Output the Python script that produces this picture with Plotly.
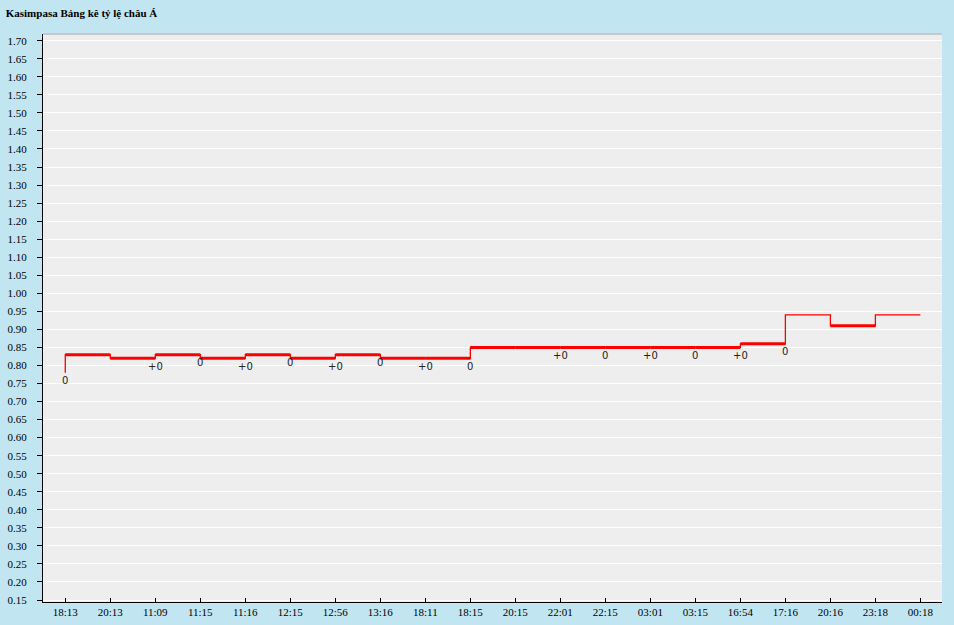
import plotly.graph_objects as go

title_text = "Kasimpasa Bảng kê tỷ lệ châu Á"
categories = ["18:13", "20:13", "11:09", "11:15", "11:16", "12:15", "12:56", "13:16", "18:11", "18:15",
              "20:15", "22:01", "22:15", "03:01", "03:15", "16:54", "17:16", "20:16", "23:18", "00:18"]
opening_value = 0.78
values = [0.83, 0.82, 0.83, 0.82, 0.83, 0.82, 0.83, 0.82, 0.82, 0.85,
          0.85, 0.85, 0.85, 0.85, 0.85, 0.86, 0.94, 0.91, 0.94, 0.94]
change_labels = ["0", "", "+0", "0", "+0", "0", "+0", "0", "+0", "0",
                 "", "+0", "0", "+0", "0", "+0", "0", "", "", ""]
y_ticks = [round(0.15 + 0.05 * i, 2) for i in range(32)]

RED = "#FF0000"
BG = "#C2E6F1"
THIN_SEGMENTS = {16, 18}
FONT = "Liberation Serif"

idx = list(range(len(categories)))

fig = go.Figure()

# full step line (thin)
fig.add_trace(go.Scatter(
    x=[0] + idx, y=[opening_value] + values,
    mode="lines", line=dict(color=RED, width=1.3, shape="hv"),
    hoverinfo="skip", showlegend=False))

# thick horizontal segments
sx, sy = [], []
for i in range(len(values) - 1):
    if i in THIN_SEGMENTS:
        continue
    sx += [idx[i], idx[i + 1], None]
    sy += [values[i], values[i], None]
fig.add_trace(go.Scatter(
    x=sx, y=sy, mode="lines", line=dict(color=RED, width=3),
    hoverinfo="skip", showlegend=False))

# change labels anchored at previous value
prev_vals = [opening_value] + values[:-1]
annotations = []
for i, t in enumerate(change_labels):
    if t:
        annotations.append(dict(
            x=idx[i], y=prev_vals[i], xref="x", yref="y", text=t, showarrow=False,
            xanchor="center", yanchor="middle", yshift=-8,
            font=dict(family="DejaVu Sans", size=10, color="#222222")))

fig.update_layout(
    width=954, height=625,
    paper_bgcolor=BG, plot_bgcolor="#EEEEEE",
    margin=dict(l=43, r=12, t=34, b=23, autoexpand=False),
    title=dict(text="<b>" + title_text + "</b>", x=0.006, xanchor="left", y=0.979, yanchor="middle",
               font=dict(family=FONT, size=11, color="#000000")),
    xaxis=dict(range=[-0.495, 19.48], tickvals=idx, ticktext=categories, automargin=False,
               showgrid=False, zeroline=False, showline=True, linecolor="#000000", linewidth=1,
               ticks="inside", ticklen=4, tickcolor="#000000",
               tickfont=dict(family=FONT, size=11, color="#000000")),
    yaxis=dict(range=[0.1445, 1.7186], tickvals=y_ticks, ticktext=[f"{v:.2f}" for v in y_ticks],
               automargin=False,
               showgrid=True, gridcolor="#FFFFFF", gridwidth=1, zeroline=False,
               showline=True, linecolor="#000000", linewidth=1,
               ticks="outside", ticklen=5, tickcolor="#000000", ticklabelstandoff=8,
               tickfont=dict(family=FONT, size=11, color="#000000")),
    annotations=annotations,
    shapes=[dict(type="line", xref="paper", yref="paper", x0=0, x1=1, y0=1, y1=1,
                 line=dict(color="#C8C8C8", width=2))],
)

fig.write_html("out.html", config={"displayModeBar": False},
               post_script="document.body.style.margin='0';document.body.style.background='" + BG + "';")
